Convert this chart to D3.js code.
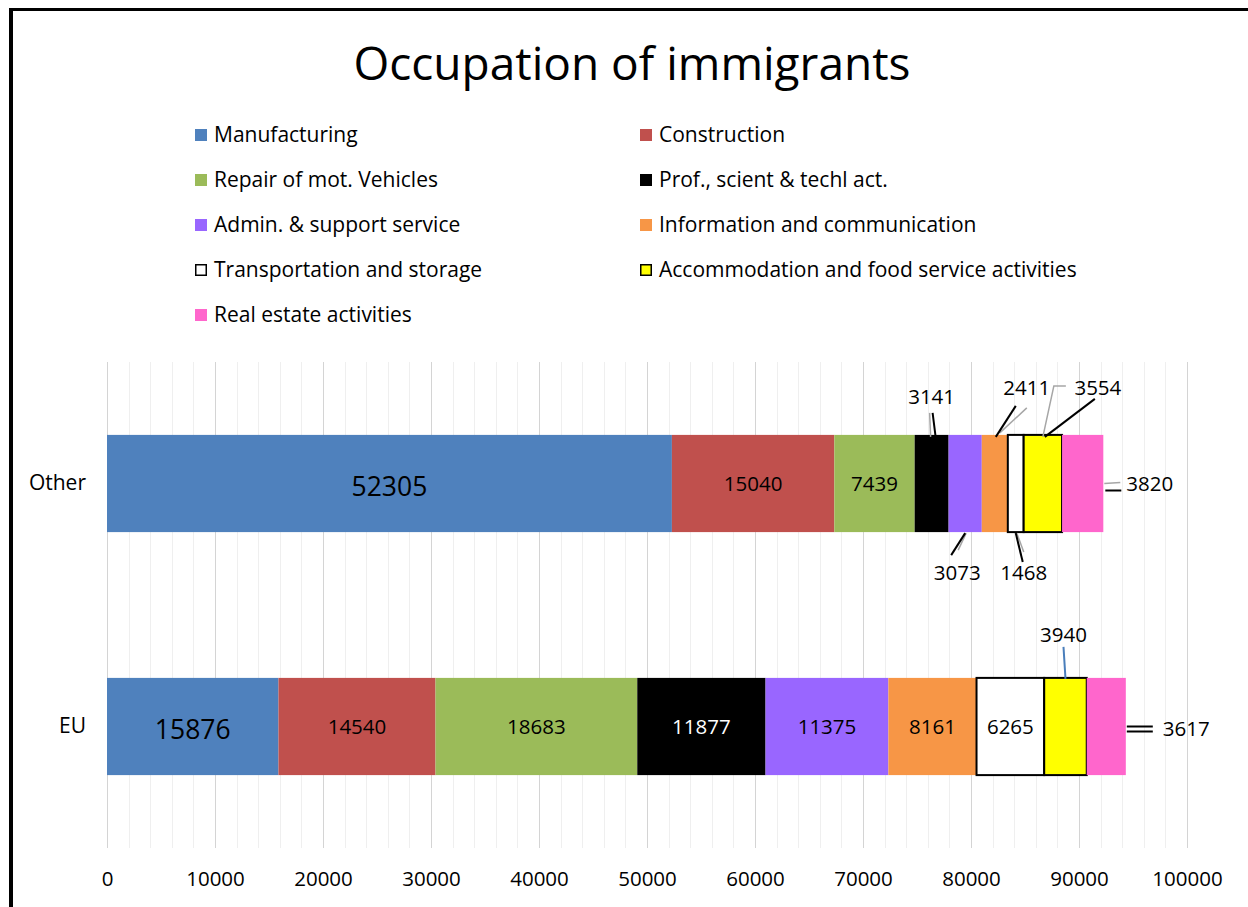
<!doctype html>
<html>
<head>
<meta charset="utf-8">
<title>Occupation of immigrants</title>
<script src="https://d3js.org/d3.v7.min.js"></script>
<style>
  body { margin: 0; background: #fff; }
  svg { display: block; font-family: "Open Sans", sans-serif; }
  .grid line { shape-rendering: crispEdges; }
</style>
</head>
<body>
<script>
  // chart data
  var categories = ["Other", "EU"];
  var series = ["Manufacturing", "Construction", "Repair of mot. Vehicles", "Prof., scient & techl act.",
    "Admin. & support service", "Information and communication", "Transportation and storage",
    "Accommodation and food service activities", "Real estate activities"];
  var otherValues = [52305, 15040, 7439, 3141, 3073, 2411, 1468, 3554, 3820];
  var euValues = [15876, 14540, 18683, 11877, 11375, 8161, 6265, 3940, 3617];
  var xTicks = [0, 10000, 20000, 30000, 40000, 50000, 60000, 70000, 80000, 90000, 100000];

  var colors = ["#4f81bd", "#c0504d", "#9bbb59", "#000000", "#9966ff", "#f79646", "#ffffff", "#ffff00", "#ff66cc"];
  var outlined = [false, false, false, false, false, false, true, true, false];

  var width = 1248, height = 907;
  var svg = d3.select("body").append("svg").attr("width", width).attr("height", height);

  // frame lines (top and left)
  svg.append("rect").attr("x", 9).attr("y", 8).attr("width", width - 9).attr("height", 3).attr("fill", "#000");
  svg.append("rect").attr("x", 9).attr("y", 8).attr("width", 4).attr("height", height - 8).attr("fill", "#000");

  svg.append("text").attr("x", 632).attr("y", 80).attr("text-anchor", "middle")
    .attr("font-size", 46).text("Occupation of immigrants");

  // legend, two columns
  var legend = svg.append("g");
  series.forEach(function(s, i) {
    var col = i % 2, row = Math.floor(i / 2);
    var lx = col ? 640 : 195, ly = 135 + row * 45;
    legend.append("rect").attr("x", lx + (outlined[i] ? 0.75 : 0)).attr("y", ly - 6 + (outlined[i] ? 0.75 : 0))
      .attr("width", outlined[i] ? 10.5 : 12).attr("height", outlined[i] ? 10.5 : 12)
      .attr("fill", colors[i]).attr("stroke", outlined[i] ? "#000" : "none").attr("stroke-width", 1.5);
    legend.append("text").attr("x", lx + 19).attr("y", ly).attr("dy", "0.35em")
      .attr("font-size", 21).text(s);
  });

  var x = d3.scaleLinear().domain([0, 100000]).range([107, 1187]);
  var y = d3.scaleBand().domain(categories).range([362, 848]).paddingInner(0.6).paddingOuter(0.3);

  // gridlines: major every 10000, minor every 2000
  var grid = svg.append("g").attr("class", "grid");
  grid.selectAll("line").data(d3.range(0, 100001, 2000)).enter().append("line")
    .attr("x1", function(d) { return Math.round(x(d)) + 0.5; })
    .attr("x2", function(d) { return Math.round(x(d)) + 0.5; })
    .attr("y1", 362).attr("y2", 848)
    .attr("stroke", function(d) { return d % 10000 === 0 ? "#d4d4d4" : "#efefef"; })
    .attr("stroke-width", function(d) { return d % 10000 === 0 ? 1.5 : 1; });

  // x axis labels
  var xAxis = d3.axisBottom(x).tickValues(xTicks).tickSize(0).tickPadding(0).tickFormat(d3.format("d"));
  var gx = svg.append("g").attr("transform", "translate(0,871)").call(xAxis);
  gx.select(".domain").remove();
  gx.selectAll("text").attr("font-size", 20.5).attr("font-family", "Open Sans, sans-serif").attr("fill", "#000");

  // y axis labels
  var yAxis = d3.axisLeft(y).tickSize(0).tickPadding(0);
  var gy = svg.append("g").attr("transform", "translate(86,0)").call(yAxis);
  gy.select(".domain").remove();
  gy.selectAll("text").attr("font-size", 21).attr("font-family", "Open Sans, sans-serif").attr("fill", "#000");

  var rows = [otherValues, euValues];
  var stacked = rows.map(function(vals, ci) {
    var acc = 0;
    return vals.map(function(v, si) {
      var seg = { cat: categories[ci], si: si, v: v, x0: acc, x1: acc + v };
      acc += v;
      return seg;
    });
  });

  var bars = svg.append("g");
  stacked.forEach(function(segs) {
    bars.selectAll(null).data(segs).enter().append("rect")
      .attr("x", function(d) { return x(d.x0); })
      .attr("y", function(d) { return y(d.cat); })
      .attr("width", function(d) { return x(d.x1) - x(d.x0); })
      .attr("height", y.bandwidth())
      .attr("fill", function(d) { return colors[d.si]; })
      .attr("stroke", function(d) { return outlined[d.si] ? "#000" : "none"; })
      .attr("stroke-width", 2);
  });

  // labels inside the wide segments
  var inside = { Other: [0, 1, 2], EU: [0, 1, 2, 3, 4, 5, 6] };
  stacked.forEach(function(segs) {
    segs.filter(function(d) { return inside[d.cat].indexOf(d.si) >= 0; }).forEach(function(d) {
      svg.append("text")
        .attr("x", (x(d.x0) + x(d.x1)) / 2)
        .attr("y", y(d.cat) + y.bandwidth() / 2 + (d.si === 0 ? 3 : 0))
        .attr("dy", "0.35em").attr("text-anchor", "middle")
        .attr("font-size", d.si === 0 ? 26.5 : 20.5)
        .attr("fill", d.si === 3 ? "#fff" : "#000")
        .text(d.v);
    });
  });

  // callout labels: anchor is segment top / bottom / right edge; offsets in px
  var callouts = [
    { cat: "Other", si: 3, side: "top", line: [[4, 2], [1, -22]], gray: [[-1, 2], [-2, -22]], label: [0, -38], anchor: "middle" },
    { cat: "Other", si: 4, side: "bottom", line: [[0, 1], [-14, 23]], gray: [[1, 1], [-7, 18]], label: [-8, 41], anchor: "middle" },
    { cat: "Other", si: 5, side: "top", line: [[1, 2], [21, -29]], gray: [[5, -2], [32, -27]], label: [32, -47], anchor: "middle" },
    { cat: "Other", si: 6, side: "bottom", line: [[0, 1], [7, 30]], gray: [[1, 1], [8, 20]], label: [8, 41], anchor: "middle" },
    { cat: "Other", si: 7, side: "top", line: [[2, 2], [52, -36]], gray: [[0, 2], [11, -49], [23, -49]], label: [55, -47], anchor: "middle" },
    { cat: "Other", si: 8, side: "right", line: [[2, 7], [18, 7]], gray: [[1, 0], [17, -1]], label: [23, 0], anchor: "start" },
    { cat: "EU", si: 7, side: "top", line: [[0, 1], [-2, -31]], color: "#4a7ebb", label: [-2, -43], anchor: "middle" },
    { cat: "EU", si: 8, side: "right", line: [[1, 0], [27, 0]], line2: [[1, 5], [27, 5]], label: [37, 2], anchor: "start" }
  ];

  var lineGen = d3.line();
  callouts.forEach(function(c) {
    var d = stacked[categories.indexOf(c.cat)][c.si];
    var ax, ay;
    if (c.side === "right") { ax = x(d.x1); ay = y(d.cat) + y.bandwidth() / 2; }
    else { ax = (x(d.x0) + x(d.x1)) / 2; ay = c.side === "top" ? y(d.cat) : y(d.cat) + y.bandwidth(); }
    var shift = function(pts) { return pts.map(function(p) { return [ax + p[0], ay + p[1]]; }); };
    if (c.gray) svg.append("path").attr("d", lineGen(shift(c.gray))).attr("fill", "none")
      .attr("stroke", "#a6a6a6").attr("stroke-width", 1.5);
    svg.append("path").attr("d", lineGen(shift(c.line))).attr("fill", "none")
      .attr("stroke", c.color || "#000").attr("stroke-width", 2);
    if (c.line2) svg.append("path").attr("d", lineGen(shift(c.line2))).attr("fill", "none")
      .attr("stroke", "#000").attr("stroke-width", 2);
    svg.append("text").attr("x", ax + c.label[0]).attr("y", ay + c.label[1]).attr("dy", "0.35em")
      .attr("text-anchor", c.anchor).attr("font-size", 20.5).text(d.v);
  });
</script>
</body>
</html>
